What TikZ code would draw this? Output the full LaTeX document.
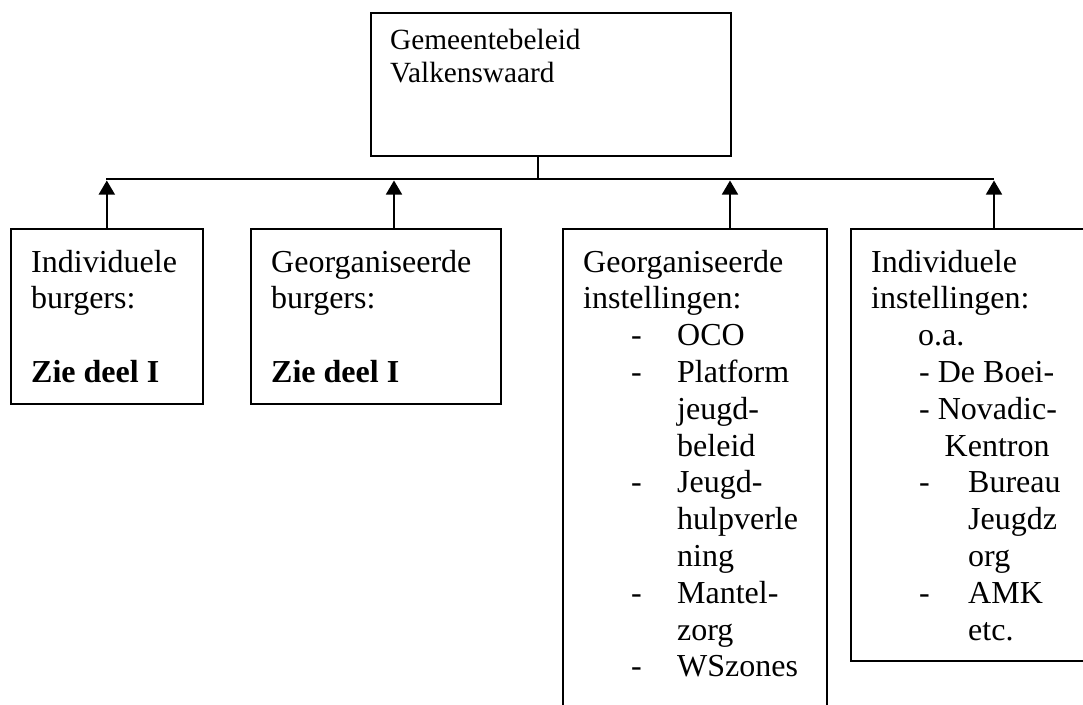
\documentclass[tikz,border=0pt]{standalone}
\usepackage{fontspec}
\setmainfont{Liberation Serif}
\usetikzlibrary{arrows.meta,calc}
\tikzset{
  box/.style={draw, line width=1.6pt, rectangle, inner sep=0pt, anchor=north west},
  txt/.style={inner sep=0pt, anchor=base west, font=\fontsize{32}{36.8}\selectfont},
  ttxt/.style={inner sep=0pt, anchor=base west, font=\fontsize{29.3}{33.7}\selectfont},
  conn/.style={line width=1.6pt},
  arr/.style={line width=1.6pt, -{Triangle[width=16pt,length=14pt]}, shorten >=1.5pt}
}
\newcommand{\dashitem}[2]{\makebox[#1][l]{-}#2}
\begin{document}
\begin{tikzpicture}[x=1pt,y=-1pt]
\useasboundingbox (0,0) rectangle (1083,704);
\clip (0,0) rectangle (1083,704);
% boxes
\node[box, minimum width=360pt, minimum height=143pt] (top) at (370,12) {};
\node[box, minimum width=192pt, minimum height=175pt] (b1) at (10,228) {};
\node[box, minimum width=250pt, minimum height=175pt] (b2) at (250,228) {};
\node[box, minimum width=264pt, minimum height=500pt] (b3) at (562,228) {};
\node[box, minimum width=260pt, minimum height=432pt] (b4) at (850,228) {};
% connection points
\coordinate (busL) at (106,179);
\coordinate (busR) at (994,179);
\coordinate (s0) at ($(top.south west)+(168,0)$);
\coordinate (s1) at (b1.north);
\coordinate (s2) at ($(b2.north west)+(144,0)$);
\coordinate (s3) at ($(b3.north west)+(168,0)$);
\coordinate (s4) at ($(b4.north west)+(144,0)$);
\draw[conn] (busL) -- (busR);
\draw[conn] (s0) -- (s0 |- busL);
\draw[arr] (s1) -- (s1 |- busL);
\draw[arr] (s2) -- (s2 |- busL);
\draw[arr] (s3) -- (s3 |- busL);
\draw[arr] (s4) -- (s4 |- busL);
% top text
\node[ttxt] (t1) at (390,49) {Gemeentebeleid};
\node[ttxt] (t2) at (390,82.7) {Valkenswaard};
% box 1
\node[txt] (a1) at (31,272) {Individuele};
\node[txt] (a2) at (31,308.8) {burgers:};
\node[txt] (a3) at (31,382.4) {\bfseries Zie deel I};
% box 2
\node[txt] (c1) at (271,272) {Georganiseerde};
\node[txt] (c2) at (271,308.8) {burgers:};
\node[txt] (c3) at (271,382.4) {\bfseries Zie deel I};
% box 3
\node[txt] (d1) at (583,272) {Georganiseerde};
\node[txt] (d2) at (583,308.8) {instellingen:};
\node[txt] (d3) at (631,345.6) {\dashitem{46pt}{OCO}};
\node[txt] (d4) at (631,382.4) {\dashitem{46pt}{Platform}};
\node[txt] (d5) at (631,419.2) {\hspace*{46pt}jeugd-};
\node[txt] (d6) at (631,456) {\hspace*{46pt}beleid};
\node[txt] (d7) at (631,492.8) {\dashitem{46pt}{Jeugd-}};
\node[txt] (d8) at (631,529.6) {\hspace*{46pt}hulpverle};
\node[txt] (d9) at (631,566.4) {\hspace*{46pt}ning};
\node[txt] (d10) at (631,603.2) {\dashitem{46pt}{Mantel-}};
\node[txt] (d11) at (631,640) {\hspace*{46pt}zorg};
\node[txt] (d12) at (631,676.8) {\dashitem{46pt}{WSzones}};
% box 4
\node[txt] (e1) at (871,272) {Individuele};
\node[txt] (e2) at (871,308.8) {instellingen:};
\node[txt] (e3) at (918,345.6) {o.a.};
\node[txt] (e4) at (919,382.4) {- De Boei-};
\node[txt] (e5) at (919,419.2) {- Novadic-};
\node[txt] (e6) at (944.5,456) {Kentron};
\node[txt] (e7) at (919,492.8) {\dashitem{49pt}{Bureau}};
\node[txt] (e8) at (919,529.6) {\hspace*{49pt}Jeugdz};
\node[txt] (e9) at (919,566.4) {\hspace*{49pt}org};
\node[txt] (e10) at (919,603.2) {\dashitem{49pt}{AMK}};
\node[txt] (e11) at (919,640) {\hspace*{49pt}etc.};
\end{tikzpicture}
\end{document}
